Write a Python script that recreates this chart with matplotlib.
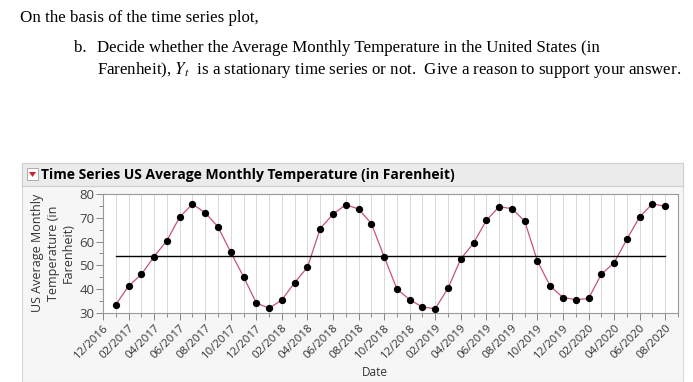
import numpy as np
import matplotlib.pyplot as plt
from matplotlib.patches import Rectangle, Polygon

# Среднемесячная температура в США, 01/2017 - 08/2020
months = ["01/2017", "02/2017", "03/2017", "04/2017", "05/2017", "06/2017",
          "07/2017", "08/2017", "09/2017", "10/2017", "11/2017", "12/2017",
          "01/2018", "02/2018", "03/2018", "04/2018", "05/2018", "06/2018",
          "07/2018", "08/2018", "09/2018", "10/2018", "11/2018", "12/2018",
          "01/2019", "02/2019", "03/2019", "04/2019", "05/2019", "06/2019",
          "07/2019", "08/2019", "09/2019", "10/2019", "11/2019", "12/2019",
          "01/2020", "02/2020", "03/2020", "04/2020", "05/2020", "06/2020",
          "07/2020", "08/2020"]
temps = [33.5, 41.3, 46.2, 53.7, 60.4, 70.3, 75.8, 72.1, 66.2, 55.5, 45.2, 34.2,
         32.0, 35.5, 42.8, 49.2, 65.5, 71.5, 75.5, 73.7, 67.6, 53.7, 40.1, 35.6,
         32.5, 31.8, 40.4, 52.7, 59.4, 68.9, 74.6, 73.9, 68.6, 51.8, 41.3, 36.5,
         35.6, 36.1, 46.3, 51.1, 61.0, 70.4, 75.9, 74.8]
mean_line = 53.9
tick_labels = ["12/2016", "02/2017", "04/2017", "06/2017", "08/2017", "10/2017",
               "12/2017", "02/2018", "04/2018", "06/2018", "08/2018", "10/2018",
               "12/2018", "02/2019", "04/2019", "06/2019", "08/2019", "10/2019",
               "12/2019", "02/2020", "04/2020", "06/2020", "08/2020"]

W, H = 693, 382
fig = plt.figure(figsize=(W / 100, H / 100), dpi=100)
fig.patch.set_facecolor("white")


def fx(px):
    return px / W


def fy(py):
    return 1 - py / H


# --- текст задания ---
serif = "Liberation Serif"
fs = 12.2
plt.rcParams["mathtext.fontset"] = "stix"
fig.text(fx(20), fy(18), "On the basis of the time series plot,", family=serif,
         fontsize=fs, va="center", ha="left")
fig.text(fx(74), fy(48), "b.", family=serif, fontsize=fs, va="center")
fig.text(fx(97), fy(48),
         "Decide whether the Average Monthly Temperature in the United States (in",
         family=serif, fontsize=fs, va="center")
fig.text(fx(97), fy(70),
         "Farenheit), $Y_t$  is a stationary time series or not.  Give a reason to support your answer.",
         family=serif, fontsize=fs, va="center")

# --- панель JMP ---
fig.patches.append(Rectangle((fx(22), 0), fx(683) - fx(22), fy(163),
                             transform=fig.transFigure, facecolor="#F6F6F6",
                             edgecolor="#D8D8D8", lw=0.8, zorder=0))
fig.patches.append(Rectangle((fx(22), fy(186)), fx(683) - fx(22), fy(163) - fy(186),
                             transform=fig.transFigure, facecolor="#EBEBEB",
                             edgecolor="#CFCFCF", lw=0.8, zorder=1))
fig.patches.append(Rectangle((fx(27), fy(180)), fx(38) - fx(27), fy(168) - fy(180),
                             transform=fig.transFigure, facecolor="white",
                             edgecolor="#A0A0A0", lw=0.6, zorder=2))
fig.patches.append(Polygon([(fx(29), fy(172)), (fx(36), fy(172)), (fx(32.5), fy(177))],
                           closed=True, transform=fig.transFigure,
                           facecolor="#D2202A", edgecolor="none", zorder=3))
fig.text(fx(41), fy(174.5), "Time Series US Average Monthly Temperature (in Farenheit)",
         family="Open Sans", fontweight="bold", fontsize=10, va="center", ha="left")

# --- график ---
ax = fig.add_axes([fx(103), fy(313), fx(678) - fx(103), fy(194) - fy(313)])
ax.set_zorder(5)
ax.set_facecolor("white")
x = np.arange(1, len(temps) + 1)

for xi in range(0, len(temps) + 2):
    ax.axvline(xi, color="#D2D2D2", lw=0.6, zorder=0)

ax.plot(x, temps, color="#C9546E", lw=0.9, zorder=2)
ax.scatter(x, temps, s=18, color="black", zorder=3)
ax.plot([x[0], x[-1]], [mean_line, mean_line], color="black", lw=1.0, zorder=2)

ax.set_xlim(0, len(temps) + 1)
ax.set_ylim(30, 80)
ax.set_yticks([30, 40, 50, 60, 70, 80])
ax.set_yticks([35, 45, 55, 65, 75], minor=True)
ax.set_xticks(np.arange(0, len(temps) + 1, 2))
ax.set_xticks(np.arange(1, len(temps) + 2, 2), minor=True)
ax.set_xticklabels(tick_labels, rotation=45, ha="right", rotation_mode="anchor",
                   fontsize=8.2, color="#333333", family="Open Sans")
for lbl in ax.get_yticklabels():
    lbl.set_fontsize(9.5)
    lbl.set_color("#444444")
    lbl.set_family("Open Sans")

ax.tick_params(axis="both", which="major", length=5, width=0.7, color="#888888")
ax.tick_params(axis="both", which="minor", length=3, width=0.7, color="#888888")
ax.tick_params(axis="x", pad=2)
ax.tick_params(axis="y", pad=1)
for sp in ax.spines.values():
    sp.set_color("#9A9A9A")
    sp.set_linewidth(0.8)

fig.text(fx(53), fy(253), "US Average Monthly\nTemperature (in\nFarenheit)",
         rotation=90, ha="center", va="center", multialignment="center",
         fontsize=9, color="#333333", family="Open Sans", linespacing=1.25)
fig.text(fx(375), fy(372), "Date", ha="center", va="center", fontsize=8.5,
         color="#333333", family="Open Sans")

fig.savefig("out.png", dpi=100)
